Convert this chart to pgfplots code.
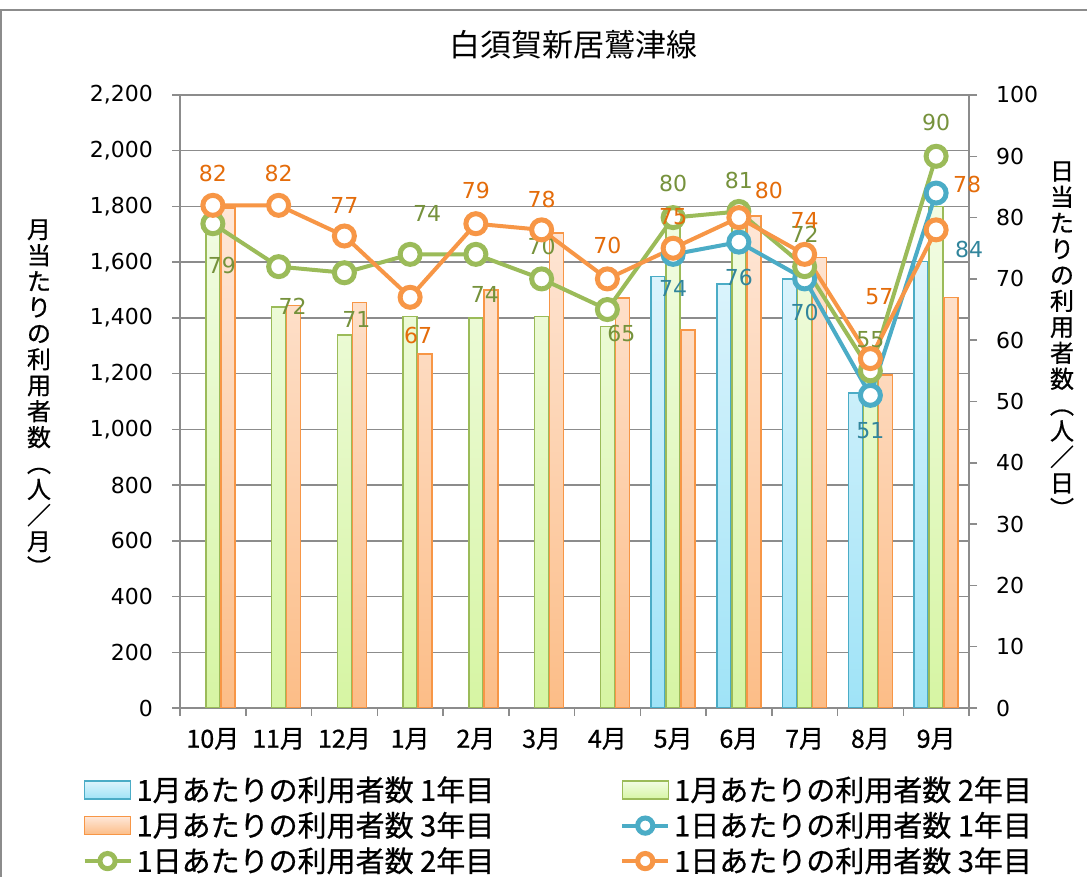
\documentclass[border=0pt]{standalone}
\usepackage{pgfplots}
\usepackage{pgfplotstable}
\pgfplotsset{compat=1.18}
\usepackage{fontspec}
\setmainfont{DejaVu Sans}
\newfontfamily\jp{Noto Sans CJK JP}
\newfontfamily\jpb{Noto Sans CJK JP}[FakeBold=0.7]

\definecolor{axgray}{HTML}{8C8C8C}
\definecolor{blueE}{HTML}{4BACC6}
\definecolor{blueT}{HTML}{DDF4FC}
\definecolor{blueB}{HTML}{9FE3F7}
\definecolor{greenE}{HTML}{9BBB59}
\definecolor{greenT}{HTML}{F2FCE4}
\definecolor{greenB}{HTML}{D6F5A3}
\definecolor{orangeE}{HTML}{F79646}
\definecolor{orangeT}{HTML}{FEE7D8}
\definecolor{orangeB}{HTML}{FCBD87}
\definecolor{blueL}{HTML}{31859C}
\definecolor{greenL}{HTML}{76923C}
\definecolor{orangeL}{HTML}{E46C0A}

% monthly users (bars)
\pgfplotstableread{
x y
7 1548
8 1521
9 1540
10 1130
11 1602
}\monA
\pgfplotstableread{
x y
0 1730
1 1440
2 1339
3 1405
4 1399
5 1405
6 1369
7 1760
8 1770
9 1575
10 1195
11 1799
}\monB
\pgfplotstableread{
x y
0 1795
1 1445
2 1456
3 1270
4 1500
5 1704
6 1471
7 1357
8 1766
9 1616
10 1195
11 1474
}\monC

% daily users (lines), dx/dy = label offset in pt
\pgfplotstableread{
x y dx dy
7 74 0 -17
8 76 0 -17.5
9 70 0 -17
10 51 0 -17.5
11 84 16.5 -28
}\dayA
\pgfplotstableread{
x y dx dy
0 79 4.5 -21
1 72 7 -20
2 71 6 -23.5
3 74 8.5 20.5
4 74 4.5 -20
5 70 0 16
6 65 7 -12
7 80 0 17
8 81 0 15.5
9 72 0 16
10 55 0 15.5
11 90 0 17
}\dayB
\pgfplotstableread{
x y dx dy
0 82 0 16
1 82 0 16
2 77 0 15
3 67 4 -19
4 79 0 16.5
5 78 0 15
6 70 0 16.5
7 75 0 16
8 80 15 13.5
9 74 0 17
10 57 4.5 31
11 78 15.5 22.5
}\dayC

\pgfplotsset{
  common/.style={
    at={(90pt,84.5pt)}, anchor=south west,
    scale only axis, width=394.5pt, height=306.5pt,
    xmin=-0.5, xmax=11.5,
    tick align=outside, major tick length=4pt, minor tick length=4pt,
    tick style={draw=axgray, line width=0.75pt},
    /pgf/number format/assume math mode=true,
  },
  dayline/.style={
    line width=2pt, mark=*, mark size=5pt,
    mark options={fill=white, line width=2.5pt, solid},
    point meta=y,
    nodes near coords,
    visualization depends on={\thisrow{dx}\as\dx},
    visualization depends on={\thisrow{dy}\as\dy},
    every node near coord/.append style={anchor=center, inner sep=0pt,
      xshift=\dx pt, yshift=\dy pt, font=\fontsize{11}{13}\selectfont},
  },
}

\begin{document}
\begin{tikzpicture}
\useasboundingbox (0,0) rectangle (543.5pt,438.5pt);
\fill[white] (0,0) rectangle (543.5pt,438.5pt);
\draw[axgray, line width=1pt] (0.5pt,0) -- (0.5pt,433.5pt) -- (543.5pt,433.5pt);

\begin{axis}[common,
  ymin=0, ymax=2200, ytick={0,200,...,2200},
  xtick={0,...,11},
  xticklabels={10月,11月,12月,1月,2月,3月,4月,5月,6月,7月,8月,9月},
  minor xtick={-0.5,0.5,...,11.5},
  xtick pos=bottom, ytick pos=left,
  major x tick style={draw=none},
  axis line style={draw=axgray, line width=0.75pt},
  ymajorgrids, grid style={draw=axgray, line width=0.75pt},
  /pgf/number format/1000 sep={,},
  yticklabel style={font=\fontsize{11}{13}\selectfont, xshift=-6pt},
  xticklabel style={font=\jpb\fontsize{12.5}{14}\selectfont, yshift=-2.5pt},
  bar width=7pt,
]
\addplot[ybar, bar shift=-7.5pt, draw=blueE, line width=0.75pt,
  top color=blueT, bottom color=blueB] table[x=x, y=y] {\monA};
\addplot[ybar, bar shift=0pt, draw=greenE, line width=0.75pt,
  top color=greenT, bottom color=greenB] table[x=x, y=y] {\monB};
\addplot[ybar, bar shift=7.5pt, draw=orangeE, line width=0.75pt,
  top color=orangeT, bottom color=orangeB] table[x=x, y=y] {\monC};
\end{axis}

\begin{axis}[common,
  ymin=0, ymax=100, ytick={0,10,...,100},
  axis x line=none, axis y line*=right, ytick pos=right,
  axis line style={draw=none},
  yticklabel style={font=\fontsize{11}{13}\selectfont, xshift=6pt},
  clip=false,
  legend columns=2,
  legend image code/.code={\draw[mark repeat=2, mark phase=2, #1, mark size=3.8pt]
    plot coordinates {(0pt,0pt) (11.5pt,0pt) (23pt,0pt)};},
  legend style={draw=none, fill=none, at={(-0.124,-0.1044)}, anchor=north west,
    font=\jpb\fontsize{14.5}{16}\selectfont, inner sep=0pt, row sep=0pt,
    /tikz/every even column/.append style={column sep=61pt}},
  legend cell align=left,
]
\addlegendimage{legend image code/.code={\draw[draw=blueE, line width=0.75pt,
  top color=blueT, bottom color=blueB] (0pt,-4.5pt) rectangle (23pt,4.5pt);}}
\addlegendentry{1月あたりの利用者数 1年目}
\addlegendimage{legend image code/.code={\draw[draw=greenE, line width=0.75pt,
  top color=greenT, bottom color=greenB] (0pt,-4.5pt) rectangle (23pt,4.5pt);}}
\addlegendentry{1月あたりの利用者数 2年目}
\addlegendimage{legend image code/.code={\draw[draw=orangeE, line width=0.75pt,
  top color=orangeT, bottom color=orangeB] (0pt,-4.5pt) rectangle (23pt,4.5pt);}}
\addlegendentry{1月あたりの利用者数 3年目}

\addplot[dayline, color=blueE, every node near coord/.append style={text=blueL}]
  table[x=x, y=y] {\dayA};
\addlegendentry{1日あたりの利用者数 1年目}
\addplot[dayline, color=greenE, every node near coord/.append style={text=greenL}]
  table[x=x, y=y] {\dayB};
\addlegendentry{1日あたりの利用者数 2年目}
\addplot[dayline, color=orangeE, every node near coord/.append style={text=orangeL}]
  table[x=x, y=y] {\dayC};
\addlegendentry{1日あたりの利用者数 3年目}
\end{axis}

\node[font=\jp\fontsize{15.5}{18}\selectfont] at (286.5pt,416pt) {白須賀新居鷲津線};
\node[font=\jpb\fontsize{12}{13}\selectfont, align=center, inner sep=0pt, anchor=north]
  at (19.5pt,329pt) {月\\当\\た\\り\\の\\利\\用\\者\\数\\︵\\人\\／\\月\\︶};
\node[font=\jpb\fontsize{12}{13}\selectfont, align=center, inner sep=0pt, anchor=north]
  at (531pt,358pt) {日\\当\\た\\り\\の\\利\\用\\者\\数\\︵\\人\\／\\日\\︶};
\end{tikzpicture}
\end{document}
